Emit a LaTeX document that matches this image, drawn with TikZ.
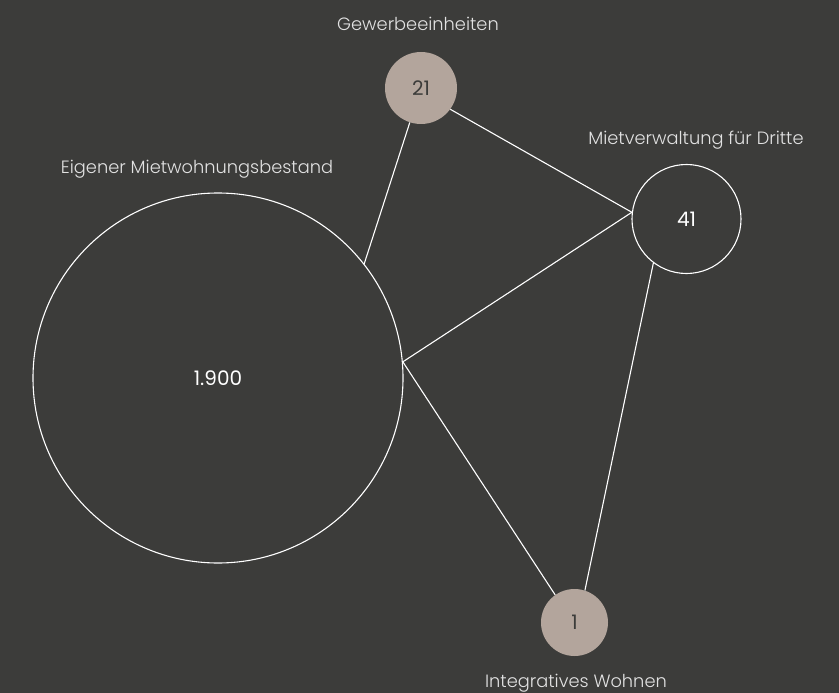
\documentclass[tikz,border=0pt]{standalone}
\usepackage{fontspec}
\IfFontExistsTF{Poppins Light}{\newfontfamily\lightf{Poppins Light}}{\newfontfamily\lightf{Poppins}}
\newfontfamily\numf{Poppins}
\definecolor{bg}{HTML}{3C3C3A}
\definecolor{beige}{HTML}{B3A59C}
\definecolor{lbl}{HTML}{E2E2E2}
\begin{document}
\begin{tikzpicture}[x=1pt,y=-1pt,
  ring/.style={circle,draw=white,line width=1.1pt,inner sep=0pt},
  bubble/.style={circle,fill=beige,draw=none,inner sep=0pt},
  link/.style={draw=white,line width=1.1pt},
  lab/.style={text=lbl,font=\lightf\fontsize{17.8}{20}\selectfont,inner sep=0pt,anchor=base},
  numw/.style={text=white,font=\numf\fontsize{20}{22}\selectfont,inner sep=0pt},
  numd/.style={text=bg,font=\numf\fontsize{20}{22}\selectfont,inner sep=0pt}]
\fill[bg] (0,0) rectangle (839,693);
\useasboundingbox (0,0) rectangle (839,693);
\node[ring,minimum size=370pt] (big) at (218,378) {};
\node[bubble,minimum size=72pt] (gew) at (421,88) {};
\node[ring,minimum size=109pt] (miet) at (686.5,219) {};
\node[bubble,minimum size=67pt] (int) at (574.5,622.5) {};
\node[numw] (nbig) at (big.center) {1.900};
\node[numd] (ngew) at (gew.center) {21};
\node[numw] (nmiet) at (miet.center) {41};
\node[numd] (nint) at (int.center) {1};
\node[lab] (lgew) at (418,30.5) {Gewerbeeinheiten};
\node[lab] (lmiet) at (696,144) {Mietverwaltung für Dritte};
\node[lab] (lbig) at (197,173) {Eigener Mietwohnungsbestand};
\node[lab] (lint) at (576,687) {Integratives Wohnen};
\draw[link] (big.38) -- (gew.252.5);
\draw[link] (gew.-36) -- (miet.173.3);
\draw[link] (big.5.3) -- (miet.173.3);
\draw[link] (big.5.3) -- (int.125.3);
\draw[link] (miet.233) -- (int.72);
\end{tikzpicture}
\end{document}
